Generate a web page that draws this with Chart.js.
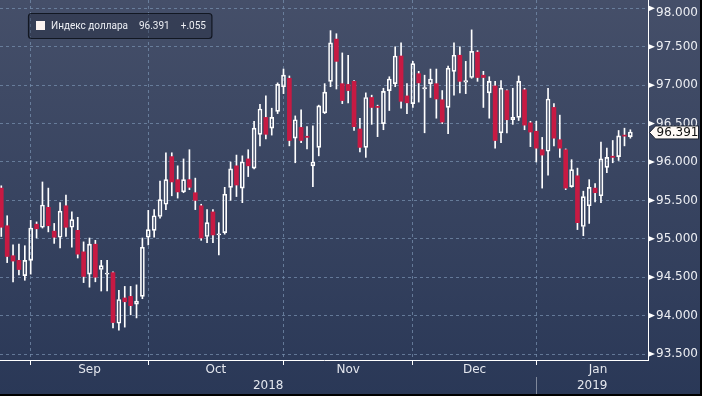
<!DOCTYPE html>
<html><head><meta charset="utf-8">
<script src="https://cdn.jsdelivr.net/npm/chart.js@4.4.1/dist/chart.umd.min.js"></script>
<style>
html,body{margin:0;padding:0;background:#2c3a56;}
canvas{display:block;}
</style></head><body>
<canvas id="c" width="702" height="396"></canvas>
<script>
// ---------- data ----------
const startDate = '2018-08-27';           // first trading day shown
const seriesName = 'Индекс доллара';
const lastText = '96.391';
const changeText = '+.055';
const monthNames = ['Jan','Feb','Mar','Apr','May','Jun','Jul','Aug','Sep','Oct','Nov','Dec'];
const yTickValues = [93.5,93.75,94,94.25,94.5,94.75,95,95.25,95.5,95.75,96,96.25,96.5,96.75,97,97.25,97.5,97.75,98];
const yLabelStep = 0.5;

const open = [95.66,95.17,94.78,94.72,94.52,94.72,95.19,95.15,95.41,95.10,
95.02,95.43,95.15,95.11,94.83,94.54,94.93,94.60,94.54,94.56,
93.90,94.23,94.25,94.15,94.25,95.02,95.11,95.29,95.45,96.07,
95.77,95.61,95.77,95.60,95.43,95.03,95.35,95.05,95.08,95.67,
95.95,95.66,96.04,95.92,96.36,96.58,96.44,96.66,96.98,97.09,
96.31,96.45,96.335,95.95,96.19,96.64,97.05,97.60,97.02,97.01,
97.05,96.43,96.19,96.84,96.725,96.50,96.93,97.02,97.38,96.86,
96.76,97.15,96.95,97.02,97.02,96.81,96.71,97.18,97.39,97.04,
97.10,97.43,97.13,96.90,96.99,96.38,96.93,96.55,96.58,96.94,
96.51,96.40,96.16,96.14,96.71,96.29,96.16,95.68,95.82,95.16,
95.43,95.66,95.56,95.93,96.075,96.07,96.35,96.33];
const high = [95.69,95.30,94.92,94.93,94.91,95.24,95.22,95.74,95.66,95.20,
95.47,95.57,95.35,95.28,94.96,95.01,94.98,94.72,94.72,94.57,
94.33,94.38,94.38,94.40,95.01,95.37,95.38,95.75,96.12,96.12,
95.95,96.04,96.16,95.79,95.45,95.38,95.38,95.21,95.67,96.00,
96.09,96.08,96.16,96.53,96.75,96.86,96.70,97.03,97.21,97.12,
96.60,96.68,96.46,96.47,96.74,97.02,97.71,97.67,97.42,97.39,
97.06,96.57,96.90,96.87,96.74,96.96,97.11,97.50,97.55,97.02,
97.31,97.18,97.13,97.21,97.21,96.93,97.25,97.55,97.50,97.31,
97.72,97.45,97.18,97.11,97.05,97.06,96.94,96.96,97.12,96.96,
96.53,96.53,96.32,96.96,96.76,96.61,96.17,96.03,95.92,95.62,
95.77,95.72,96.26,96.18,96.28,96.41,96.44,96.42];
const low = [95.03,94.69,94.44,94.53,94.46,94.54,95.01,95.14,95.09,94.94,
94.88,95.03,94.89,94.75,94.43,94.37,94.44,94.32,94.32,93.84,
93.81,93.85,94.01,93.97,94.22,94.92,95.02,95.27,95.38,95.56,
95.53,95.60,95.64,95.38,94.98,94.95,94.95,94.79,95.06,95.50,
95.55,95.47,95.81,95.91,96.21,96.30,96.35,96.63,96.89,96.21,
95.99,96.25,96.17,95.68,96.08,96.63,96.98,96.95,96.76,96.77,
96.41,96.13,96.06,96.49,96.33,96.42,96.67,96.98,96.70,96.63,
96.71,96.78,96.38,96.84,96.57,96.50,96.37,96.87,96.90,96.89,
97.09,97.05,96.71,96.57,96.18,96.25,96.38,96.49,96.54,96.42,
96.20,96.00,95.66,95.83,96.21,96.06,95.64,95.67,95.12,95.04,
95.20,95.48,95.47,95.86,95.99,96.02,96.21,96.31];
const close = [95.15,94.77,94.71,94.60,94.72,95.14,95.13,95.44,95.17,95.02,
95.36,95.15,95.25,94.80,94.51,94.93,94.50,94.65,94.555,93.91,
94.21,94.18,94.13,94.19,94.89,95.12,95.30,95.51,95.77,95.74,
95.61,95.77,95.67,95.50,95.01,95.21,95.05,95.065,95.58,95.91,
95.70,96.00,95.95,96.44,96.69,96.36,96.58,97.01,97.13,96.28,
96.55,96.28,96.32,96.00,96.73,96.91,97.55,97.31,96.80,96.93,
96.46,96.19,96.84,96.71,96.71,96.92,97.08,97.38,96.79,96.77,
97.28,97.03,96.97,97.08,96.82,96.52,97.22,97.39,97.05,97.06,
97.44,97.10,97.10,97.05,96.28,96.96,96.55,96.58,97.05,96.48,
96.39,96.18,96.09,96.82,96.31,96.18,95.66,95.90,95.21,95.55,
95.67,95.60,96.04,96.06,96.06,96.34,96.336,96.391];

// ---------- categories (weekdays) ----------
const days = [];
{
  const d = new Date(startDate + 'T00:00:00Z');
  while (days.length < close.length) {
    const wd = d.getUTCDay();
    if (wd !== 0 && wd !== 6) days.push(new Date(d.getTime()));
    d.setUTCDate(d.getUTCDate() + 1);
  }
}

// ---------- layout constants ----------
const xMin = -0.22, xMax = 110.0;
const yMin = 93.422, yMax = 98.109;
const RED = '#c71a43';
const GRID = 'rgba(118,142,172,0.75)';
const LABEL = '#e4e7ee';
const AXISFONT = '"DejaVu Sans", sans-serif';
const LEGENDFONT = 'Roboto, "Liberation Sans", sans-serif';

// month / year ticks
const monthStarts = [];
days.forEach((d, i) => {
  if (i > 0 && d.getUTCMonth() !== days[i - 1].getUTCMonth())
    monthStarts.push({ idx: i, m: d.getUTCMonth(), y: d.getUTCFullYear() });
});
const xTicks = [];
monthStarts.forEach(ms => xTicks.push({ value: ms.idx, kind: 'b', text: '' }));
monthStarts.forEach((ms, k) => {
  const end = k + 1 < monthStarts.length ? monthStarts[k + 1].idx : xMax + 2;
  xTicks.push({ value: (ms.idx + end) / 2, kind: 'm', text: monthNames[ms.m] });
});
const yearStarts = monthStarts.filter(ms => ms.m === 0);
{
  let from = xMin, yr = days[0].getUTCFullYear();
  yearStarts.forEach(ys => {
    xTicks.push({ value: (from + ys.idx) / 2, kind: 'y', text: ['', String(yr)] });
    from = ys.idx; yr = ys.y;
  });
  xTicks.push({ value: (from + xMax) / 2, kind: 'y', text: ['', String(yr)] });
}

const isLab = v => Math.abs(v / yLabelStep - Math.round(v / yLabelStep)) < 1e-9;
const topLabel = Math.max(...yTickValues.filter(isLab));

// ---------- datasets ----------
const up = close.map((c, i) => c >= open[i]);
const bodyData = close.map((c, i) => ({ x: i, y: [open[i], c] }));
const upperData = close.map((c, i) => ({ x: i, y: [Math.max(open[i], c), high[i]] }));
const lowerData = close.map((c, i) => ({ x: i, y: [low[i], Math.min(open[i], c)] }));

const decor = {
  id: 'decor',
  beforeDraw(chart) {
    const { ctx, width, height } = chart;
    const g = ctx.createLinearGradient(0, 0, 0, height);
    g.addColorStop(0, '#454f69');
    g.addColorStop(1, '#2a3857');
    ctx.save(); ctx.fillStyle = g; ctx.fillRect(0, 0, width, height); ctx.restore();
  },
  afterDraw(chart) {
    const { ctx } = chart;
    const ys = chart.scales.y, xs = chart.scales.x;
    const ax = Math.round(ys.left) + 0.5;
    ctx.save();
    // arrow ticks on labelled y values
    ctx.fillStyle = '#ffffff';
    yTickValues.filter(isLab).forEach(v => {
      const y = ys.getPixelForValue(v);
      ctx.beginPath();
      ctx.moveTo(ax, y - 2.8); ctx.lineTo(ax + 6.5, y); ctx.lineTo(ax, y + 2.8);
      ctx.closePath(); ctx.fill();
    });
    // last price tag
    const lv = close[close.length - 1];
    const py = ys.getPixelForValue(lv) + 0.5;
    ctx.beginPath();
    ctx.moveTo(ax + 1, py);
    ctx.lineTo(ax + 7, py - 6.5);
    ctx.lineTo(698.5, py - 6.5);
    ctx.lineTo(698.5, py + 6.5);
    ctx.lineTo(ax + 7, py + 6.5);
    ctx.closePath();
    ctx.fillStyle = '#fffaf6'; ctx.fill();
    ctx.strokeStyle = '#1b2130'; ctx.lineWidth = 1; ctx.stroke();
    ctx.fillStyle = '#111111';
    ctx.font = '12px ' + AXISFONT;
    ctx.textBaseline = 'middle'; ctx.textAlign = 'left';
    ctx.fillText(lastText, ax + 8, py + 0.5);
    // year separator
    yearStarts.forEach(ysd => {
      const x = Math.round(xs.getPixelForValue(ysd.idx)) + 0.5;
      ctx.strokeStyle = '#7f889b'; ctx.lineWidth = 1;
      ctx.beginPath(); ctx.moveTo(x, 377); ctx.lineTo(x, 396); ctx.stroke();
    });
    // legend box
    ctx.font = '11px ' + LEGENDFONT;
    let fs = 11 * Math.min(1, 77 / ctx.measureText(seriesName).width);
    ctx.font = fs.toFixed(2) + 'px ' + LEGENDFONT;
    const nameX = 51;
    const nameW = ctx.measureText(seriesName).width;
    const valX = nameX + nameW + 11;
    const valW = ctx.measureText(lastText).width;
    const chX = valX + valW + 11;
    const chW = ctx.measureText(changeText).width;
    const bx = 28.5, by = 13.5, bw = chX + chW + 6 - bx, bh = 25;
    ctx.beginPath();
    ctx.roundRect(bx, by, bw, bh, 3);
    ctx.fillStyle = 'rgba(28,35,52,0.35)'; ctx.fill();
    ctx.strokeStyle = '#121722'; ctx.lineWidth = 1.2; ctx.stroke();
    ctx.fillStyle = '#fbf3f0';
    ctx.fillRect(36, 21, 9, 9);
    ctx.fillStyle = '#eceef3';
    ctx.textBaseline = 'middle';
    ctx.fillText(seriesName, nameX, 26.5);
    ctx.fillText(lastText, valX, 26.5);
    ctx.fillText(changeText, chX, 26.5);
    // outer frame
    ctx.fillStyle = '#000000';
    ctx.fillRect(700, 0, 2, 396);
    ctx.fillRect(0, 394, 702, 2);
    ctx.restore();
  }
};

new Chart(document.getElementById('c'), {
  type: 'bar',
  data: {
    datasets: [
      { label: 'body', data: bodyData,
        backgroundColor: up.map(u => u ? 'rgba(0,0,0,0)' : RED),
        borderColor: up.map(u => u ? '#ffffff' : RED),
        borderWidth: up.map(u => u ? 1 : 0),
        borderSkipped: false, barThickness: 4, grouped: false, order: 0 },
      { label: 'upper', data: upperData, backgroundColor: '#ffffff', borderWidth: 0,
        barThickness: 1, grouped: false, order: 1 },
      { label: 'lower', data: lowerData, backgroundColor: '#ffffff', borderWidth: 0,
        barThickness: 1, grouped: false, order: 2 }
    ]
  },
  options: {
    responsive: false, animation: false, devicePixelRatio: 1,
    layout: { padding: 0, autoPadding: false },
    plugins: { legend: { display: false }, tooltip: { enabled: false } },
    scales: {
      x: {
        type: 'linear', position: 'bottom', min: xMin, max: xMax, offset: false,
        afterBuildTicks(scale) { scale.ticks = xTicks.map(t => ({ value: t.value, kind: t.kind, text: t.text })); },
        afterFit(scale) { scale.height = 36; scale.paddingLeft = 0; scale.paddingRight = 0; scale.paddingTop = 0; scale.paddingBottom = 0; },
        grid: {
          offset: false, drawOnChartArea: true, drawTicks: true, tickLength: 5,
          color: GRID,
          lineWidth: c => (c.tick && c.tick.kind === 'b') ? 1 : 0,
          tickWidth: 1,
          tickColor: c => (c.tick && c.tick.kind === 'b') ? '#ffffff' : 'rgba(0,0,0,0)'
        },
        border: { display: true, color: '#ffffff', width: 1, dash: [3, 3] },
        ticks: {
          autoSkip: false, maxRotation: 0, minRotation: 0, padding: -3, color: LABEL,
          font: { family: AXISFONT, size: 12, lineHeight: 1.35 },
          callback: (v, i, ticks) => ticks[i].text
        }
      },
      y: {
        type: 'linear', position: 'right', min: yMin, max: yMax, beginAtZero: false,
        afterBuildTicks(scale) { scale.ticks = yTickValues.map(v => ({ value: v, lab: isLab(v) })); },
        afterFit(scale) { scale.width = 54; scale.paddingTop = 0; scale.paddingBottom = 0; scale.paddingLeft = 0; scale.paddingRight = 0; },
        grid: {
          color: GRID, tickLength: 5, tickWidth: 1,
          lineWidth: c => (c.tick && c.tick.lab) ? 1 : 0,
          tickColor: c => (c.tick && c.tick.lab) ? 'rgba(0,0,0,0)' : '#ffffff'
        },
        border: { display: true, color: '#ffffff', width: 1, dash: [3, 3] },
        ticks: {
          padding: 3, color: '#eceef3',
          font: c => ({ family: AXISFONT, size: 12,
                        lineHeight: (c.tick && c.tick.value === topLabel) ? 0.8 : 1.2 }),
          callback: (v, i, ticks) => {
            const t = ticks[i];
            if (!t.lab) return '';
            const s = v.toFixed(3);
            return v === topLabel ? ['', s] : s;
          }
        }
      }
    }
  },
  plugins: [decor]
});
</script>
</body></html>
